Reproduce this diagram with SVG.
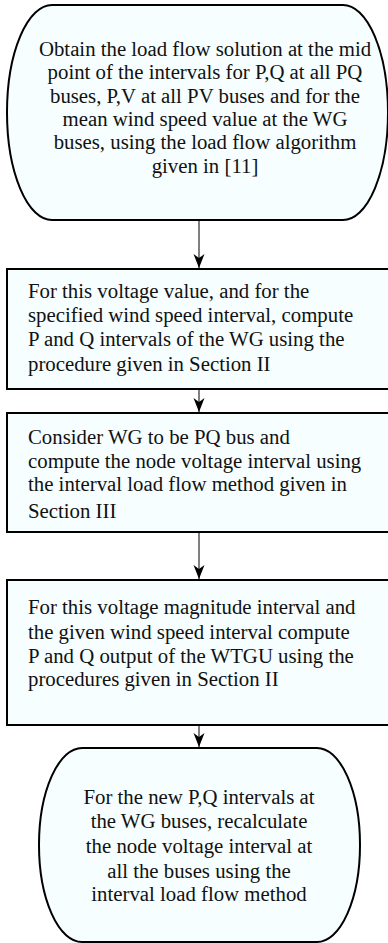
<svg xmlns="http://www.w3.org/2000/svg" width="388" height="943" viewBox="0 0 388 943">
<style>
.shape{fill:#f6feff;stroke:#000;stroke-width:2}
.t{font-family:"Liberation Serif","Times New Roman",serif;font-size:20.8px;fill:#111}
.c{text-anchor:middle}
.edge{stroke:#000;stroke-width:1;fill:none;marker-end:url(#ah)}
</style>
<defs>
<marker id="ah" markerUnits="userSpaceOnUse" markerWidth="16" markerHeight="14" viewBox="-15 -7 16 14" refX="0" refY="0" orient="auto">
<path d="M-14,-5.5 L0,0 L-14,5.5 L-10,0 Z" fill="#000"/>
</marker>
</defs>
<rect width="388" height="943" fill="#fff"/>
<g id="n1">
<path class="shape" d="M52,5 H343 A45,107.5 0 0 1 343,220 H52 A45,107.5 0 0 1 52,5 Z"/>
<text class="t c" x="205" y="56">Obtain the load flow solution at the mid</text>
<text class="t c" x="205" y="79">point of the intervals for P,Q at all PQ</text>
<text class="t c" x="205" y="103">buses, P,V at all PV buses and for the</text>
<text class="t c" x="205" y="126">mean wind speed value at the WG</text>
<text class="t c" x="205" y="149">buses, using the load flow algorithm</text>
<text class="t c" x="205" y="173">given in [11]</text>
</g>
<g id="n2">
<rect class="shape" x="7" y="269" width="390" height="120"/>
<text class="t" x="28" y="298">For this voltage value, and for the</text>
<text class="t" x="28" y="322">specified wind speed interval, compute</text>
<text class="t" x="28" y="346">P and Q intervals of the WG using the</text>
<text class="t" x="28" y="371">procedure given in Section II</text>
</g>
<g id="n3">
<rect class="shape" x="7" y="413" width="390" height="119"/>
<text class="t" x="28" y="444">Consider WG to be PQ bus and</text>
<text class="t" x="28" y="468">compute the node voltage interval using</text>
<text class="t" x="28" y="491">the interval load flow method given in</text>
<text class="t" x="28" y="518">Section III</text>
</g>
<g id="n4">
<rect class="shape" x="7" y="580" width="390" height="145"/>
<text class="t" x="28" y="614">For this voltage magnitude interval and</text>
<text class="t" x="28" y="639">the given wind speed interval compute</text>
<text class="t" x="28" y="663">P and Q output of the WTGU using the</text>
<text class="t" x="28" y="686">procedures given in Section II</text>
</g>
<g id="n5">
<path class="shape" d="M82,748 H317 A43,97 0 0 1 317,942 H82 A43,97 0 0 1 82,748 Z"/>
<text class="t c" x="199" y="804">For the new P,Q intervals at</text>
<text class="t c" x="199" y="828">the WG buses, recalculate</text>
<text class="t c" x="199" y="853">the node voltage interval at</text>
<text class="t c" x="199" y="878">all the buses using the</text>
<text class="t c" x="199" y="901">interval load flow method</text>
</g>
<g id="connectors">
<path class="edge" d="M199,220 V268"/>
<path class="edge" d="M199,389 V412"/>
<path class="edge" d="M199,532 V579"/>
<path class="edge" d="M199,725 V747"/>
</g>
</svg>
